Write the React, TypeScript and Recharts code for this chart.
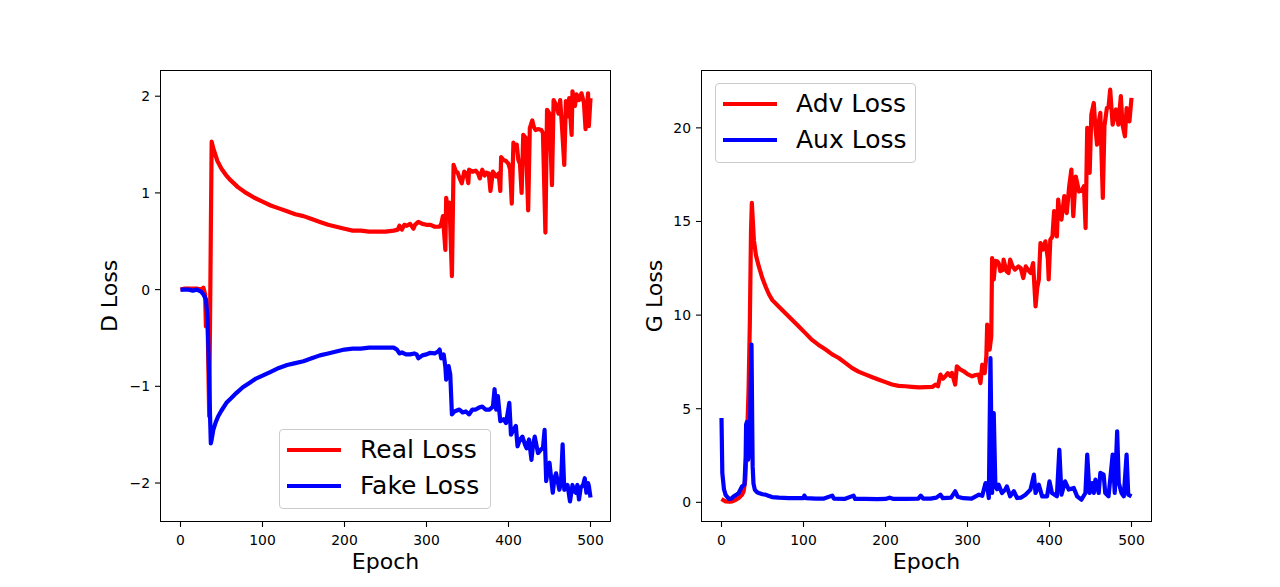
import React from "react";
import { LineChart, Line, XAxis, YAxis, Legend } from "recharts";

// ---- data ----
const realEpochs = [0, 5, 10, 15, 20, 25, 28, 30, 31, 33, 35, 37, 38, 40, 45, 50, 55, 60, 70, 80, 90, 100, 110, 120, 130, 140, 150, 160, 170, 180, 190, 200, 210, 220, 230, 240, 250, 260, 265, 267, 270, 273, 276, 280, 284, 286, 290, 295, 300, 305, 310, 316, 318, 320, 323, 324, 326, 328, 331, 333, 336, 338, 340, 343, 346, 349, 351, 352, 356, 360, 363, 365, 368, 371, 373, 376, 378, 381, 385, 388, 390, 391, 394, 397, 400, 402, 404, 406, 408, 410, 412, 414, 416, 418, 421, 424, 426, 429, 431, 433, 436, 440, 442, 445, 447, 450, 453, 455, 458, 461, 463, 465, 468, 470, 472, 474, 477, 478, 481, 483, 486, 489, 492, 494, 497, 498, 500];
const realLoss = [0.0, 0.01, 0.01, 0.01, 0.01, 0.0, 0.02, -0.05, -0.38, -0.3, -1.31, 0.6, 1.53, 1.46, 1.33, 1.25, 1.19, 1.14, 1.06, 1.0, 0.95, 0.91, 0.87, 0.84, 0.81, 0.78, 0.76, 0.73, 0.7, 0.67, 0.65, 0.63, 0.61, 0.61, 0.6, 0.6, 0.6, 0.61, 0.62, 0.66, 0.62, 0.67, 0.66, 0.68, 0.63, 0.67, 0.7, 0.68, 0.67, 0.67, 0.65, 0.65, 0.68, 0.76, 0.41, 0.95, 0.82, 0.9, 0.14, 1.29, 1.22, 1.21, 1.16, 1.1, 1.22, 1.2, 1.1, 1.24, 1.22, 1.23, 1.2, 1.15, 1.24, 1.18, 1.21, 1.2, 1.02, 1.22, 1.17, 1.2, 1.02, 1.37, 1.34, 1.33, 1.3, 1.24, 0.89, 1.52, 1.45, 1.5, 1.34, 1.3, 1.0, 1.6, 1.57, 0.82, 1.67, 1.75, 1.68, 1.65, 1.66, 1.65, 1.62, 0.59, 1.86, 1.82, 1.08, 1.96, 1.91, 1.82, 1.96, 1.72, 1.29, 1.95, 1.79, 1.98, 1.6, 2.05, 1.9, 2.02, 1.96, 2.03, 1.93, 1.66, 2.03, 1.69, 1.98];

const fakeEpochs = [0, 5, 10, 15, 20, 25, 28, 31, 33, 35, 36, 37, 38, 40, 43, 46, 50, 56, 62, 68, 76, 84, 92, 100, 110, 120, 130, 140, 150, 160, 170, 180, 190, 200, 210, 220, 230, 240, 250, 260, 264, 267, 270, 275, 280, 285, 288, 290, 295, 300, 304, 310, 314, 316, 318, 321, 323, 324, 326, 327, 329, 331, 334, 337, 340, 344, 348, 352, 356, 360, 364, 368, 372, 377, 381, 383, 385, 387, 390, 394, 397, 401, 403, 406, 409, 411, 414, 417, 420, 422, 425, 428, 430, 432, 436, 440, 442, 444, 446, 448, 450, 452, 454, 456, 458, 460, 462, 464, 466, 468, 470, 472, 475, 478, 480, 482, 484, 486, 488, 491, 493, 495, 497, 498, 500];
const fakeLoss = [0.0, 0.0, 0.0, -0.01, 0.0, -0.02, -0.05, -0.1, -0.3, -0.9, -1.3, -1.59, -1.55, -1.45, -1.37, -1.31, -1.25, -1.17, -1.12, -1.07, -1.01, -0.965, -0.92, -0.89, -0.85, -0.81, -0.78, -0.76, -0.74, -0.71, -0.68, -0.66, -0.64, -0.62, -0.61, -0.61, -0.6, -0.6, -0.6, -0.6, -0.62, -0.66, -0.65, -0.67, -0.67, -0.66, -0.67, -0.71, -0.68, -0.67, -0.655, -0.66, -0.64, -0.62, -0.71, -0.67, -0.8, -0.93, -0.84, -0.79, -0.88, -1.29, -1.26, -1.25, -1.24, -1.27, -1.26, -1.29, -1.24, -1.24, -1.22, -1.21, -1.24, -1.24, -1.21, -1.03, -1.24, -1.1, -1.36, -1.34, -1.38, -1.17, -1.5, -1.45, -1.41, -1.62, -1.55, -1.52, -1.6, -1.64, -1.55, -1.76, -1.6, -1.52, -1.69, -1.65, -1.64, -1.45, -1.98, -1.85, -1.79, -1.95, -2.1, -1.95, -1.9, -1.98, -2.07, -2.0, -1.6, -2.07, -2.05, -2.02, -2.19, -2.02, -2.08, -2.1, -2.02, -2.17, -2.05, -2.02, -1.95, -2.1, -2.0, -2.03, -2.15];

const advEpochs = [0, 3, 5, 10, 13, 17, 21, 25, 27, 29, 31, 33, 34.5, 36, 37, 38, 39.5, 42, 45.5, 50, 54, 58, 62, 70, 78, 86, 94, 102, 110, 118, 127, 135, 143, 151, 159, 167, 176, 184, 192, 200, 208, 216, 224, 232, 241, 249, 257, 261, 264, 267, 270, 273, 276, 279, 281, 285, 287, 291, 295.5, 300, 305.6, 310, 313.8, 315.8, 318, 321, 323, 324, 326, 327, 329, 330, 332, 334, 336, 338, 340, 343, 344, 347.5, 350, 352, 355, 358, 362, 365, 368, 371, 375, 377, 380, 383, 385, 387, 389, 392, 395, 398, 399, 401, 403.6, 405.6, 409, 410.6, 412, 414.6, 418, 421, 424, 426.7, 429, 432, 436, 440, 442, 444, 446, 449, 451, 454, 456, 458, 460, 462, 465, 467, 470, 472, 474, 477, 479, 481, 484, 487, 489, 492, 494, 496, 497.5, 500];
const advLoss = [0.18, 0.1, 0.05, 0.03, 0.05, 0.12, 0.23, 0.4, 0.59, 1.2, 3.2, 6.0, 9.4, 14.5, 16.0, 15.2, 14.0, 13.2, 12.6, 11.95, 11.5, 11.1, 10.8, 10.45, 10.1, 9.75, 9.4, 9.05, 8.69, 8.42, 8.16, 7.9, 7.71, 7.45, 7.18, 6.98, 6.82, 6.68, 6.55, 6.42, 6.29, 6.22, 6.2, 6.17, 6.14, 6.15, 6.16, 6.29, 6.2, 6.82, 6.6, 6.73, 6.9, 6.75, 6.91, 6.29, 7.26, 7.1, 7.0, 6.85, 6.73, 6.8, 6.82, 6.37, 7.35, 6.9, 7.8, 9.49, 8.5, 8.16, 8.87, 13.05, 11.9, 12.9, 12.88, 12.78, 12.35, 12.4, 12.96, 12.35, 12.25, 12.96, 12.6, 12.43, 12.6, 12.5, 11.98, 12.6, 12.35, 12.25, 12.78, 10.47, 11.45, 11.9, 13.85, 13.5, 13.94, 13.0, 11.9, 14.03, 14.2, 15.55, 14.2, 16.17, 15.6, 15.1, 16.35, 15.45, 16.87, 17.77, 15.28, 17.4, 16.6, 16.7, 16.88, 14.65, 20.0, 17.6, 20.7, 21.33, 20.0, 19.1, 20.3, 20.8, 16.26, 20.1, 21.06, 21.1, 22.04, 20.17, 20.6, 20.98, 20.17, 21.69, 20.17, 19.55, 21.06, 20.5, 20.35, 21.6];

const auxEpochs = [0, 1, 3, 5, 9, 12, 15, 18, 21, 25, 28, 29.5, 30, 31, 32.5, 34.5, 35.5, 36.6, 37.5, 38, 39, 40.6, 43, 45.5, 50, 53.6, 57, 61.7, 70, 82, 92, 100, 101, 103, 115, 125, 135, 137, 150, 161, 163, 175, 190, 200, 205, 210, 225, 240, 243, 246, 255, 262, 267, 270, 280, 285, 288, 295, 305, 314, 318, 322, 324, 326, 328, 330, 332, 334, 336, 338, 342, 346, 348, 352, 356.5, 360.5, 365, 370.7, 376.8, 381, 383, 387, 391, 397, 400, 403, 409, 412, 414.6, 419, 423.5, 429.6, 433.7, 438.9, 443.8, 446, 448.8, 452, 454, 456, 460, 462, 466, 468, 472, 477, 479.6, 482.5, 484.5, 487.8, 490.6, 494, 496, 500];
const auxLoss = [4.5, 1.57, 0.7, 0.4, 0.18, 0.2, 0.32, 0.4, 0.5, 0.85, 0.94, 2.5, 4.15, 4.3, 2.28, 3.17, 6.0, 8.42, 4.0, 1.92, 1.0, 0.68, 0.55, 0.5, 0.43, 0.41, 0.35, 0.28, 0.25, 0.23, 0.22, 0.23, 0.36, 0.22, 0.2, 0.2, 0.36, 0.2, 0.18, 0.36, 0.18, 0.18, 0.17, 0.18, 0.25, 0.18, 0.18, 0.2, 0.36, 0.2, 0.2, 0.25, 0.41, 0.22, 0.25, 0.59, 0.3, 0.22, 0.2, 0.41, 0.35, 1.03, 0.9, 0.23, 7.7, 0.5, 4.77, 0.85, 0.7, 0.94, 0.5, 0.68, 0.85, 0.32, 0.59, 0.23, 0.25, 0.41, 0.68, 1.48, 0.5, 0.94, 0.32, 0.32, 1.12, 0.5, 0.32, 2.81, 0.41, 1.12, 0.68, 0.77, 0.32, 0.14, 0.5, 2.55, 0.5, 1.03, 0.5, 1.21, 0.5, 1.57, 1.48, 0.5, 0.32, 2.55, 0.5, 3.79, 1.03, 0.5, 0.32, 2.55, 0.41, 0.32];

const epochTicks = [0, 100, 200, 300, 400, 500];
const dTicks = [-2, -1, 0, 1, 2];
const gTicks = [0, 5, 10, 15, 20];

const toRows = (xs: number[], ys: number[]) => xs.map((e, i) => ({ epoch: e, value: ys[i] }));

const FONT = "'DejaVu Sans', sans-serif";
const RED = "#ff0000";
const BLUE = "#0000ff";
const fmt = (v: number) => String(v).replace("-", "\u2212");
const tickStyle = { fontSize: 13.9, fill: "#000", fontFamily: FONT };

type LegendItem = { value?: string; color?: string };

function LegendBox({ payload, width, order }: { payload?: LegendItem[]; width: number; order: string[] }) {
  // keep the series order (recharts sorts legend items by name)
  const items = [...(payload || [])].sort(
    (a, b) => order.indexOf(String(a.value)) - order.indexOf(String(b.value))
  );
  return (
    <div
      style={{
        width,
        height: 80,
        boxSizing: "border-box",
        border: "1px solid #cccccc",
        borderRadius: 4,
        background: "rgba(255,255,255,0.8)",
        paddingTop: 2,
        fontFamily: FONT,
        color: "#000",
      }}
    >
      {items.map((p) => (
        <div key={p.value} style={{ display: "flex", alignItems: "center", height: 36 }}>
          <svg width={54} height={6} style={{ marginLeft: 7, display: "block" }}>
            <line x1={0} y1={3} x2={54} y2={3} stroke={p.color} strokeWidth={4.2} />
          </svg>
          <span style={{ marginLeft: 19, fontSize: 25, lineHeight: "36px", whiteSpace: "nowrap" }}>{p.value}</span>
        </div>
      ))}
    </div>
  );
}

type PanelProps = {
  left: number;
  width: number;
  marginLeft: number;
  yAxisWidth: number;
  marginRight: number;
  yLabel: string;
  yDomain: [number, number];
  yTicks: number[];
  first: { name: string; rows: { epoch: number; value: number }[] };
  second: { name: string; rows: { epoch: number; value: number }[] };
  legendLeft: number;
  legendTop: number;
  legendWidth: number;
};

function Panel(p: PanelProps) {
  const order = [p.first.name, p.second.name];
  return (
    <div style={{ position: "absolute", left: p.left, top: 0 }}>
      <LineChart
        width={p.width}
        height={587}
        margin={{ top: 70, right: p.marginRight, bottom: 5, left: p.marginLeft }}
      >
        <XAxis
          dataKey="epoch"
          type="number"
          domain={[-25, 525]}
          allowDataOverflow
          ticks={epochTicks}
          height={60}
          axisLine={false}
          tickLine={{ stroke: "#000", strokeWidth: 1.1 }}
          tickSize={5}
          tickMargin={8}
          tick={tickStyle}
          label={{ value: "Epoch", position: "insideBottom", offset: 12.7, fontSize: 22, fill: "#000", fontFamily: FONT }}
        />
        <YAxis
          type="number"
          domain={p.yDomain}
          allowDataOverflow
          ticks={p.yTicks}
          width={p.yAxisWidth}
          axisLine={false}
          tickLine={{ stroke: "#000", strokeWidth: 1.1 }}
          tickSize={5}
          tickMargin={5}
          tick={tickStyle}
          tickFormatter={fmt}
          label={{ value: p.yLabel, angle: -90, position: "center", fontSize: 22, fill: "#000", fontFamily: FONT }}
        />
        <Legend
          layout="horizontal"
          verticalAlign="middle"
          align="center"
          wrapperStyle={{ left: p.legendLeft, top: p.legendTop, width: p.legendWidth, height: 80, bottom: "auto", right: "auto" }}
          content={(props: any) => <LegendBox payload={props.payload} width={p.legendWidth} order={order} />}
        />
        <Line
          data={p.first.rows}
          dataKey="value"
          name={p.first.name}
          type="linear"
          stroke={RED}
          strokeWidth={4.2}
          strokeLinejoin="round"
          dot={false}
          activeDot={false}
          isAnimationActive={false}
        />
        <Line
          data={p.second.rows}
          dataKey="value"
          name={p.second.name}
          type="linear"
          stroke={BLUE}
          strokeWidth={4.2}
          strokeLinejoin="round"
          dot={false}
          activeDot={false}
          isAnimationActive={false}
        />
      </LineChart>
    </div>
  );
}

const frame = (left: number): React.CSSProperties => ({
  position: "absolute",
  left,
  top: 70,
  width: 451,
  height: 452,
  boxSizing: "border-box",
  border: "1px solid #000",
  pointerEvents: "none",
});

export default function App() {
  return (
    <div
      style={{
        position: "absolute",
        left: 0,
        top: 0,
        width: 1280,
        height: 587,
        background: "#fff",
        overflow: "hidden",
        fontFamily: FONT,
      }}
    >
      <Panel
        left={0}
        width={640}
        marginLeft={58}
        yAxisWidth={102}
        marginRight={29}
        yLabel="D Loss"
        yDomain={[-2.403, 2.271]}
        yTicks={dTicks}
        first={{ name: "Real Loss", rows: toRows(realEpochs, realLoss) }}
        second={{ name: "Fake Loss", rows: toRows(fakeEpochs, fakeLoss) }}
        legendLeft={279}
        legendTop={429}
        legendWidth={212}
      />
      <Panel
        left={600}
        width={600}
        marginLeft={7}
        yAxisWidth={94}
        marginRight={48}
        yLabel="G Loss"
        yDomain={[-1.05, 23.09]}
        yTicks={gTicks}
        first={{ name: "Adv Loss", rows: toRows(advEpochs, advLoss) }}
        second={{ name: "Aux Loss", rows: toRows(auxEpochs, auxLoss) }}
        legendLeft={115}
        legendTop={83}
        legendWidth={201}
      />
      <div style={frame(160)} />
      <div style={frame(701)} />
    </div>
  );
}
